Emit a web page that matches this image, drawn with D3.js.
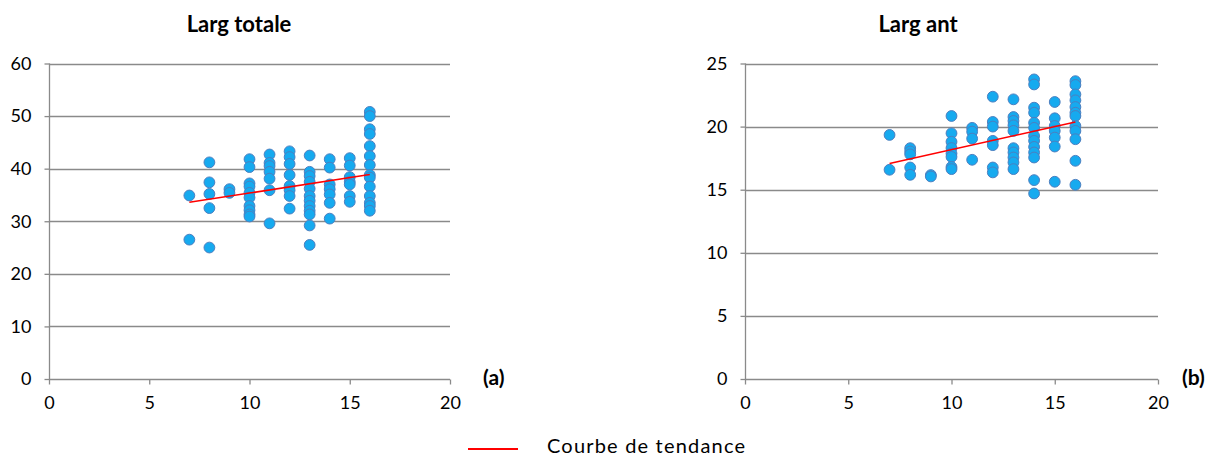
<!DOCTYPE html>
<html><head><meta charset="utf-8">
<script src="https://cdn.jsdelivr.net/npm/d3@7"></script>
<style>body{margin:0;background:#fff}svg{display:block}text{font-family:Lato,"Open Sans",sans-serif;fill:#000}</style>
</head><body>
<svg id="c" width="1217" height="460"></svg>
<script>
// ---- data ----
const titles = ["Larg totale", "Larg ant"];
const panelLabels = ["(a)", "(b)"];
const legendLabel = "Courbe de tendance";
const xTicks = [0, 5, 10, 15, 20];
const yTicksA = [0, 10, 20, 30, 40, 50, 60];
const yTicksB = [0, 5, 10, 15, 20, 25];
// x = column value, y list per column
const xA = [7, 8, 9, 10, 11, 12, 13, 14, 15, 16];
const yA = [
  [34.9, 26.5],
  [41.2, 37.4, 35.2, 32.5, 25.0],
  [36.1, 35.4],
  [41.8, 40.3, 37.2, 36.6, 35.4, 34.5, 32.9, 32.1, 31.3, 30.9],
  [42.7, 41.1, 40.5, 39.4, 38.1, 35.9, 29.6],
  [43.3, 42.2, 40.9, 38.8, 36.7, 35.9, 34.8, 32.4],
  [42.5, 39.4, 38.6, 37.5, 36.2, 34.8, 33.9, 32.9, 32.0, 31.3, 29.2, 25.5],
  [41.8, 40.2, 37.0, 36.1, 35.1, 33.5, 30.5],
  [42.0, 40.6, 38.4, 37.5, 37.0, 34.8, 33.7],
  [50.8, 50.0, 47.5, 46.6, 44.3, 42.4, 40.7, 38.8, 38.3, 36.6, 34.8, 33.5, 32.9, 32.0]
];
const xB = [7, 8, 9, 10, 11, 12, 13, 14, 15, 16];
const yB = [
  [19.34, 16.58],
  [18.29, 18.03, 17.8, 16.76, 16.18],
  [16.16, 16.05],
  [20.84, 19.47, 18.8, 18.3, 17.87, 17.6, 16.8, 16.63],
  [19.9, 19.6, 19.05, 17.37],
  [22.37, 20.37, 20.0, 18.87, 18.53, 16.76, 16.37],
  [22.16, 20.76, 20.45, 20.1, 19.66, 18.29, 17.95, 17.55, 17.16, 16.63],
  [23.74, 23.34, 21.5, 21.1, 20.3, 19.9, 19.26, 18.87, 18.39, 17.95, 17.55, 15.76, 14.7],
  [21.95, 20.66, 20.05, 19.66, 19.13, 18.42, 15.63],
  [23.6, 23.3, 22.55, 22.08, 21.55, 21.1, 20.84, 20.05, 19.66, 19.0, 17.29, 15.39]
];
const trendX = [7, 16];
const trendA = [33.6, 38.9];
const trendB = [17.08, 20.37];

// ---- drawing ----
const svg = d3.select("#c");
const grid = "#8a8a8a";

function panel(cfg) {
  const x = d3.scaleLinear().domain([0, 20]).range([cfg.x0, cfg.x1]);
  const y = d3.scaleLinear().domain([0, cfg.ymax]).range([379, 63.5]);
  const g = svg.append("g");
  g.selectAll("line.g").data(cfg.yTicks.filter(d => d > 0)).join("line")
    .attr("x1", cfg.x0).attr("x2", cfg.x1)
    .attr("y1", d => Math.round(y(d)) + 0.5).attr("y2", d => Math.round(y(d)) + 0.5)
    .attr("stroke", grid).attr("stroke-width", 1.3);
  const ya = g.append("g").attr("transform", `translate(${Math.round(cfg.x0) + 0.5},0)`)
    .call(d3.axisLeft(y).tickValues(cfg.yTicks).tickSize(5).tickPadding(13).tickFormat(d3.format("d")));
  const xa = g.append("g").attr("transform", `translate(0,${379.5})`)
    .call(d3.axisBottom(x).tickValues(xTicks).tickSize(5).tickPadding(12).tickFormat(d3.format("d")));
  [ya, xa].forEach(a => {
    a.select(".domain").attr("stroke", grid).attr("stroke-width", 1.3)
      .attr("d", a === ya ? `M0,${y(cfg.ymax)}V${y(0)}` : `M${cfg.x0},0H${cfg.x1}`);
    a.selectAll(".tick line").attr("stroke", grid).attr("stroke-width", 1.3);
    a.selectAll(".tick text").attr("font-size", 18).attr("font-family", "Lato").attr("fill", "#000");
  });
  const pts = [];
  cfg.xs.forEach((xv, i) => cfg.ys[i].forEach(v => pts.push([xv, v])));
  g.selectAll("circle").data(pts).join("circle")
    .attr("cx", d => x(d[0])).attr("cy", d => y(d[1])).attr("r", 5.4)
    .attr("fill", "#16AAEF").attr("stroke", "#4C7FC0").attr("stroke-width", 1);
  g.append("line")
    .attr("x1", x(trendX[0])).attr("y1", y(cfg.trend[0]))
    .attr("x2", x(trendX[1])).attr("y2", y(cfg.trend[1]))
    .attr("stroke", "#ff0000").attr("stroke-width", 1.6);
  g.append("text").attr("x", cfg.tx).attr("y", 32).attr("text-anchor", "middle")
    .attr("font-weight", "bold").attr("font-size", 22).text(cfg.title);
  g.append("text").attr("x", cfg.lx).attr("y", 385).attr("text-anchor", "start")
    .attr("font-weight", "bold").attr("font-size", 21).text(cfg.label);
}

panel({x0: 49, x1: 450, ymax: 60, yTicks: yTicksA, xs: xA, ys: yA, trend: trendA, title: titles[0], tx: 239, label: panelLabels[0], lx: 483});
panel({x0: 745, x1: 1158, ymax: 25, yTicks: yTicksB, xs: xB, ys: yB, trend: trendB, title: titles[1], tx: 918, label: panelLabels[1], lx: 1182});

svg.append("line").attr("x1", 468).attr("x2", 518).attr("y1", 449).attr("y2", 449)
  .attr("stroke", "#ff0000").attr("stroke-width", 2);
svg.append("text").attr("x", 547).attr("y", 453)
  .attr("font-size", 20).attr("textLength", 198).attr("lengthAdjust", "spacing").text(legendLabel);
</script>
</body></html>
